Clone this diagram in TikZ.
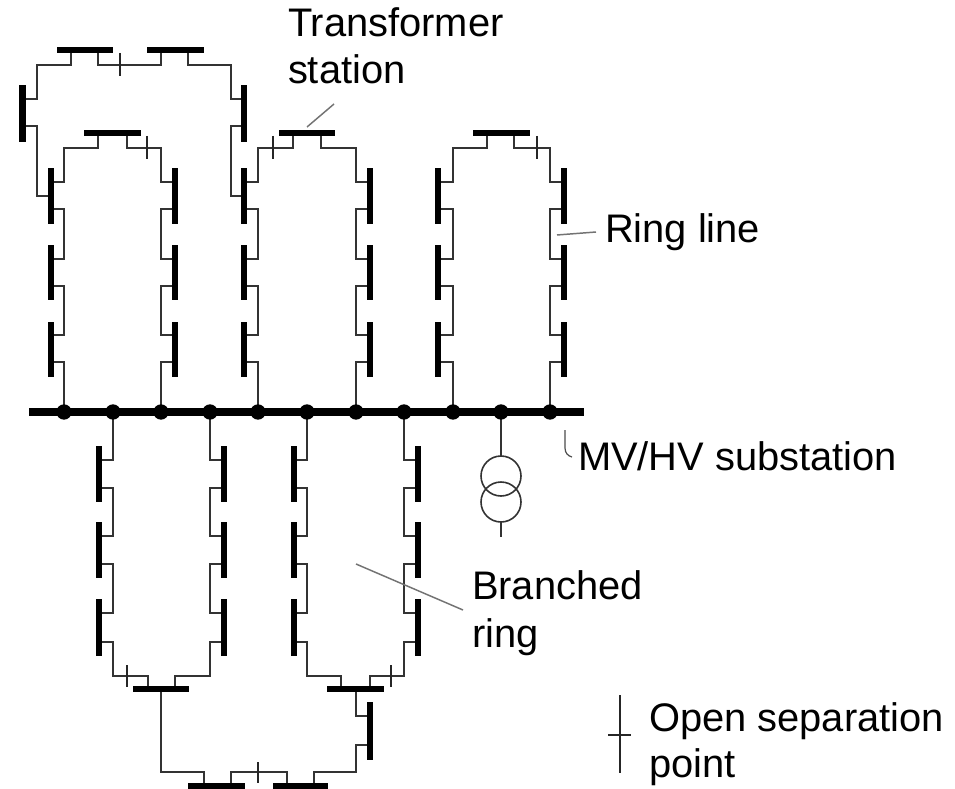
\documentclass[tikz,border=0pt]{standalone}
\usepackage{fontspec}
\setmainfont{Liberation Sans}
\pgfdeclarelayer{bg}
\pgfsetlayers{bg,main}
\tikzset{
  wirestyle/.style={draw=black!80,line width=1.2pt,line join=miter},
  sepstyle/.style={draw=black!85,line width=0.8pt},
  leader/.style={draw=black!55,line width=1.1pt},
  busbar/.style={fill=black,inner sep=0pt,outer sep=0pt,draw=none,rectangle},
  junction/.style={fill=black,circle,inner sep=0pt,outer sep=0pt,minimum size=11.5pt,draw=none},
  winding/.style={draw=black!80,line width=1.2pt,circle,inner sep=0pt,outer sep=0pt,minimum size=30pt},
  lab/.style={anchor=base west,inner sep=0pt,outer sep=0pt,font=\fontsize{29.9}{34}\selectfont,text=black}
}
% vertical bar: name, x, top, bottom, stub a, stub b, width(px)
\newcommand\vb[7][4.2]{%
  \node[busbar,minimum width=#1pt,minimum height={(#5-#4)*0.75pt}] (#2) at (#3,{(#4+#5)/2}) {};
  \coordinate (#2-a) at (#3,#6);
  \coordinate (#2-b) at (#3,#7);
}
% horizontal bar: name, x1, x2, y, stub a, stub b
\newcommand\hb[6]{%
  \node[busbar,minimum height=4pt,minimum width={(#3-#2)*0.75pt}] (#1) at ({(#2+#3)/2},#4) {};
  \coordinate (#1-a) at (#5,#4);
  \coordinate (#1-b) at (#6,#4);
}
\newcommand\wire[1]{\begin{pgfonlayer}{bg}\draw[wirestyle] #1;\end{pgfonlayer}}
% upper column: prefix, bar x, rail x, junction
\newcommand\colU[4]{%
  \vb{#1a}{#2}{168}{224}{182}{209}
  \vb{#1b}{#2}{245}{300}{259}{286}
  \vb{#1c}{#2}{322}{377}{335}{362}
  \wire{(#1a-b) -- (#3,209) |- (#1b-a)}
  \wire{(#1b-b) -- (#3,286) |- (#1c-a)}
  \wire{(#1c-b) -- (#3,362) -- (#4.center)}
}
% lower column: prefix, bar x, rail x, junction
\newcommand\colD[4]{%
  \vb{#1a}{#2}{446}{502}{460}{488}
  \vb{#1b}{#2}{522}{578}{536}{564}
  \vb{#1c}{#2}{599}{656}{613}{642}
  \wire{(#4.center) |- (#1a-a)}
  \wire{(#1a-b) -- (#3,488) |- (#1b-a)}
  \wire{(#1b-b) -- (#3,564) |- (#1c-a)}
}
% separation mark: name, x, y1, y2
\newcommand\sepmark[4]{%
  \coordinate (#1-t) at (#2,#3);
  \coordinate (#1-u) at (#2,#4);
  \draw[sepstyle] (#1-t) -- (#1-u);
}
\begin{document}
\begin{tikzpicture}[x=0.75pt,y=-0.75pt]
\useasboundingbox (0,0) rectangle (955,788);
\begin{pgfonlayer}{bg}
\fill[white] (0,0) rectangle (955,788);
\end{pgfonlayer}

% main busbar and junctions
\node[busbar,minimum height=6.2pt,minimum width={555*0.75pt}] (main) at (306.5,412) {};
\foreach \n/\x in {1/64,2/113,3/161,4/210,5/258,6/307,7/356,8/404,9/453,10/501,11/550}
  \node[junction] (d\n) at (\x,412) {};

% upper rings
\colU{Aleft}{51}{64}{d1}
\colU{Aright}{175}{161}{d3}
\colU{Bleft}{244}{258}{d5}
\colU{Bright}{370}{356}{d7}
\colU{Cleft}{438}{453}{d9}
\colU{Cright}{564}{550}{d11}

\hb{Atop}{84}{141}{133}{98}{127}
\hb{Btop}{279}{335}{133}{293}{321}
\hb{Ctop}{473}{530}{133}{487}{514}

\wire{(Atop-a) -- (98,148) -- (64,148) |- (Alefta-a)}
\wire{(Atop-b) -- (127,148) -- (161,148) |- (Arighta-a)}
\wire{(Btop-a) -- (293,148) -- (258,148) |- (Blefta-a)}
\wire{(Btop-b) -- (321,148) -- (356,148) |- (Brighta-a)}
\wire{(Ctop-a) -- (487,148) -- (453,148) |- (Clefta-a)}
\wire{(Ctop-b) -- (514,148) -- (550,148) |- (Crighta-a)}

% outer loop on top
\hb{Dtop}{57}{113}{50}{71}{98}
\hb{Etop}{147}{204}{50}{161}{188}
\vb[5]{Dleft}{22.7}{85}{142}{99}{126}
\vb{Dright}{244}{85}{142}{99}{126}
\wire{(Dtop-a) -- (71,65) -- (37,65) |- (Dleft-a)}
\wire{(Dleft-b) -- (37,126) |- (Alefta.center)}
\wire{(Dtop-b) -- (98,65) -- (161,65) -- (Etop-a)}
\wire{(Etop-b) -- (188,65) -- (231,65) |- (Dright-a)}
\wire{(Dright-b) -- (231,126) |- (Blefta.center)}

% lower rings
\colD{Fleft}{99}{113}{d2}
\colD{Fright}{224}{210}{d4}
\colD{Gleft}{294}{307}{d6}
\colD{Gright}{418}{404}{d8}

\hb{Fbot}{133}{189}{689}{148}{175}
\hb{Gbot}{327}{384}{689}{341}{370}
\wire{(Fleftc-b) -- (113,642) -- (113,676) -- (148,676) -- (Fbot-a)}
\wire{(Frightc-b) -- (210,642) -- (210,676) -- (175,676) -- (Fbot-b)}
\wire{(Gleftc-b) -- (307,642) -- (307,676) -- (341,676) -- (Gbot-a)}
\wire{(Grightc-b) -- (404,642) -- (404,676) -- (370,676) -- (Gbot-b)}

% branch below
\hb{Hbot}{188}{245}{786}{204}{231}
\hb{Ibot}{273}{328}{786}{287}{314}
\vb{Hside}{370}{702}{760}{716}{745}
\coordinate (Fbot-c) at (161,689);
\coordinate (Gbot-c) at (356,689);
\wire{(Fbot-c) -- (161,772) -- (204,772) -- (Hbot-a)}
\wire{(Hbot-b) -- (231,772) -- (287,772) -- (Ibot-a)}
\wire{(Ibot-b) -- (314,772) -- (356,772) |- (Hside-b)}
\wire{(Hside-a) -| (Gbot-c)}

% open separation points
\sepmark{s1}{120}{53}{76}
\sepmark{s2}{147}{136}{159}
\sepmark{s3}{273}{136}{159}
\sepmark{s4}{537}{136}{159}
\sepmark{s5}{127}{665}{687}
\sepmark{s6}{391}{665}{687}
\sepmark{s7}{258}{762}{783}
\sepmark{s8}{620}{695}{773}
\coordinate (s8-l) at (608,735);
\coordinate (s8-r) at (631,735);
\draw[sepstyle] (s8-l) -- (s8-r);

% supply transformer
\node[winding] (w1) at (501,476) {};
\node[winding] (w2) at (501,502) {};
\coordinate (w2end) at (501,537);
\wire{(d10.center) -- (w1.north)}
\draw[wirestyle] (w2.south) -- (w2end);

% labels
\node[lab] (tTrans) at (288,37) {Transformer};
\node[lab] (tStation) at (288,84) {station};
\node[lab] (tRing) at (605,242) {Ring line};
\node[lab] (tSub) at (578,470) {MV/HV substation};
\node[lab] (tBranch) at (472,599) {Branched};
\node[lab] (tBring) at (472,647) {ring};
\node[lab] (tOpen) at (649,731) {Open separation};
\node[lab] (tPoint) at (649,777) {point};

% leaders
\coordinate (l1a) at (307,127);
\coordinate (l1b) at (334,104);
\draw[leader] (l1a) -- (l1b);
\coordinate (l2a) at (557,235);
\coordinate (l2b) at (596,232);
\draw[leader] (l2a) -- (l2b);
\coordinate (l3a) at (356,564);
\coordinate (l3b) at (463,610);
\draw[leader] (l3a) -- (l3b);
\coordinate (l4a) at (565,430);
\coordinate (l4b) at (572,457);
\draw[draw=black!70,line width=0.9pt] (l4a) -- (565,448) .. controls (565,453) and (568,456) .. (l4b);
\end{tikzpicture}
\end{document}
